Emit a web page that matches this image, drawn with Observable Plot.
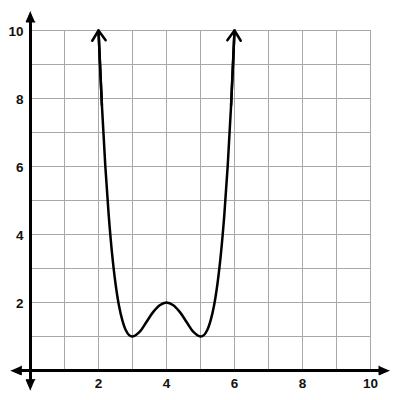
<!DOCTYPE html>
<html>
<head>
<meta charset="utf-8">
<script src="https://cdn.jsdelivr.net/npm/d3@7"></script>
<script src="https://cdn.jsdelivr.net/npm/@observablehq/plot@0.6"></script>
<style>
  html, body { margin: 0; padding: 0; background: #fff; }
</style>
</head>
<body>
<div id="chart"></div>
<script>
// Curve points
const curveX = [2, 2.1, 2.2, 2.3, 2.4, 2.5, 2.6, 2.7, 2.8, 2.9, 3, 3.2, 3.4, 3.6, 3.8, 4,
                4.2, 4.4, 4.6, 4.8, 5, 5.1, 5.2, 5.3, 5.4, 5.5, 5.6, 5.7, 5.8, 5.9, 6];
const curveY = [10, 7.81, 6.02, 4.57, 3.43, 2.56, 1.92, 1.48, 1.19, 1.04, 1, 1.13, 1.41, 1.71, 1.92, 2,
                1.92, 1.71, 1.41, 1.13, 1, 1.04, 1.19, 1.48, 1.92, 2.56, 3.43, 4.57, 6.02, 7.81, 10];
const gridValues = [1, 2, 3, 4, 5, 6, 7, 8, 9, 10];
const xTickLabels = [2, 4, 6, 8, 10];
const yTickLabels = [2, 4, 6, 8, 10];
// axis extents (beyond the grid, where the arrowheads sit)
const axisMin = -0.57;
const axisMax = 10.55;

const curve = curveX.map((x, i) => ({x, y: curveY[i]}));
const n = curve.length;
const ends = [
  {x1: curve[1].x, y1: curve[1].y, x2: curve[0].x, y2: curve[0].y},
  {x1: curve[n - 2].x, y1: curve[n - 2].y, x2: curve[n - 1].x, y2: curve[n - 1].y}
];

// filled triangle heads for the axes (size in data units: 34px per unit)
const hw = 0.13, hl = 0.3;
const axisHeads = [
  [{x: 0, y: axisMax}, {x: -hw, y: axisMax - hl}, {x: hw, y: axisMax - hl}],
  [{x: 0, y: axisMin}, {x: -hw, y: axisMin + hl}, {x: hw, y: axisMin + hl}],
  [{x: axisMin, y: 0}, {x: axisMin + hl, y: -hw}, {x: axisMin + hl, y: hw}],
  [{x: axisMax, y: 0}, {x: axisMax - hl, y: -hw}, {x: axisMax - hl, y: hw}]
].flatMap((tri, k) => tri.map(p => ({...p, k})));

const chart = Plot.plot({
  width: 400,
  height: 400,
  marginTop: 30,
  marginBottom: 30,
  marginLeft: 30,
  marginRight: 30,
  style: {fontFamily: "Liberation Sans, Arial, sans-serif", background: "#fff"},
  x: {domain: [0, 10], axis: null},
  y: {domain: [0, 10], axis: null},
  marks: [
    Plot.ruleX(gridValues, {x: d => d, y1: 0, y2: 10, stroke: "#a8a8a8", strokeWidth: 1}),
    Plot.ruleY(gridValues, {y: d => d, x1: 0, x2: 10, stroke: "#a8a8a8", strokeWidth: 1}),
    Plot.ruleX([0], {x: d => d, y1: axisMin + 0.1, y2: axisMax - 0.1, stroke: "#000", strokeWidth: 3}),
    Plot.ruleY([0], {y: d => d, x1: axisMin + 0.1, x2: axisMax - 0.1, stroke: "#000", strokeWidth: 3}),
    Plot.line(axisHeads, {x: "x", y: "y", z: "k", fill: "#000", stroke: "#000", strokeWidth: 1}),
    Plot.line(curve, {x: "x", y: "y", curve: "catmull-rom", stroke: "#000", strokeWidth: 2.5}),
    Plot.arrow(ends, {x1: "x1", y1: "y1", x2: "x2", y2: "y2", stroke: "#000", strokeWidth: 2.5,
                      headLength: 7.2, headAngle: 68}),
    Plot.text(xTickLabels, {x: d => d, y: 0, dy: 13, text: d => String(d), fontSize: 13.5,
                            fontWeight: "bold", fill: "#111"}),
    Plot.text(yTickLabels, {x: 0, y: d => d, dx: -7, dy: 1, textAnchor: "end", text: d => String(d),
                            fontSize: 13.5, fontWeight: "bold", fill: "#111"})
  ]
});
document.getElementById("chart").appendChild(chart);
</script>
</body>
</html>
